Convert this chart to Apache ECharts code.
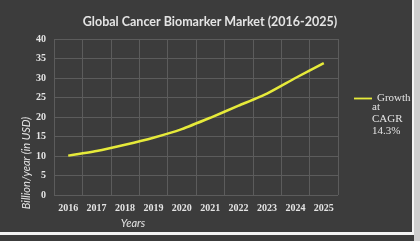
<!DOCTYPE html>
<html>
<head>
<meta charset="utf-8">
<script src="https://cdn.jsdelivr.net/npm/echarts@6/dist/echarts.min.js"></script>
<style>
  html, body { margin: 0; padding: 0; background: #d6d6d6; }
  #main { width: 420px; height: 241px; }
</style>
</head>
<body>
<div id="main"></div>
<script>
  var years = ['2016', '2017', '2018', '2019', '2020', '2021', '2022', '2023', '2024', '2025'];
  var marketSize = [10.1, 11.3, 12.9, 14.7, 16.9, 19.8, 22.9, 26.0, 30.0, 33.8];
  var seriesName = 'Growth at CAGR 14.3%';

  var chart = echarts.init(document.getElementById('main'));
  var txt = '#e4e4e4';

  var option = {
    backgroundColor: '#3c3c3c',
    animation: false,
    title: {
      text: 'Global Cancer Biomarker Market (2016-2025)',
      left: 205,
      textAlign: 'center',
      top: 10,
      textStyle: { color: txt, fontFamily: 'Lato', fontWeight: 'bold', fontSize: 12.5 }
    },
    legend: {
      left: 349,
      top: 88,
      itemWidth: 18,
      itemHeight: 10,
      data: [{ name: seriesName, icon: 'path://M0,4 L20,4 L20,6 L0,6 Z' }],
      // first line next to the icon, the rest goes underneath as in the original
      formatter: function () { return 'Growth'; },
      textStyle: { color: txt, fontFamily: 'Liberation Serif', fontSize: 11 }
    },
    grid: { left: 54, right: 82, top: 39, bottom: 46 },
    xAxis: {
      type: 'category',
      data: years,
      boundaryGap: true,
      name: 'Years',
      nameLocation: 'middle',
      nameGap: 22,
      nameTextStyle: { color: txt, fontFamily: 'Lato', fontStyle: 'italic', fontSize: 11, padding: [0, 126, 0, 0] },
      axisLine: { show: false },
      axisTick: { show: false },
      axisLabel: { color: txt, fontFamily: 'Liberation Serif', fontSize: 10, fontWeight: 'bold', margin: 8 },
      splitLine: { show: true, interval: 0, lineStyle: { color: '#5c5c5c', width: 1 } }
    },
    yAxis: {
      type: 'value',
      min: 0,
      max: 40,
      interval: 5,
      name: 'Billion/year (in USD)',
      nameLocation: 'middle',
      nameGap: 22,
      nameMoveOverlap: false,
      nameTextStyle: { color: txt, fontFamily: 'Lato', fontStyle: 'italic', fontSize: 11, padding: [0, 92, 0, 0] },
      axisLine: { show: false },
      axisTick: { show: false },
      axisLabel: { color: txt, fontFamily: 'Liberation Serif', fontSize: 10, fontWeight: 'bold', margin: 8 },
      splitLine: { lineStyle: { color: '#5c5c5c', width: 1 } }
    },
    graphic: [
      {
        type: 'text', left: 372, top: 101,
        style: { text: 'at\nCAGR\n14.3%', fill: txt, font: '11px "Liberation Serif"', lineHeight: 12 }
      },
      { type: 'rect', left: 412, top: 0, shape: { width: 2, height: 235 }, style: { fill: '#f4f4f4' }, z: 100 },
      { type: 'rect', left: 0, top: 232, shape: { width: 414, height: 3 }, style: { fill: '#f4f4f4' }, z: 100 },
      { type: 'rect', left: 414, top: 0, shape: { width: 6, height: 241 }, style: { fill: '#cfcfcf' }, z: 100 }
    ],
    series: [{
      name: seriesName,
      type: 'line',
      data: marketSize,
      symbol: 'none',
      smooth: 0.2,
      lineStyle: { color: '#e6ea3a', width: 2.5 },
      itemStyle: { color: '#e6ea3a' }
    }]
  };

  chart.setOption(option);
</script>
</body>
</html>
